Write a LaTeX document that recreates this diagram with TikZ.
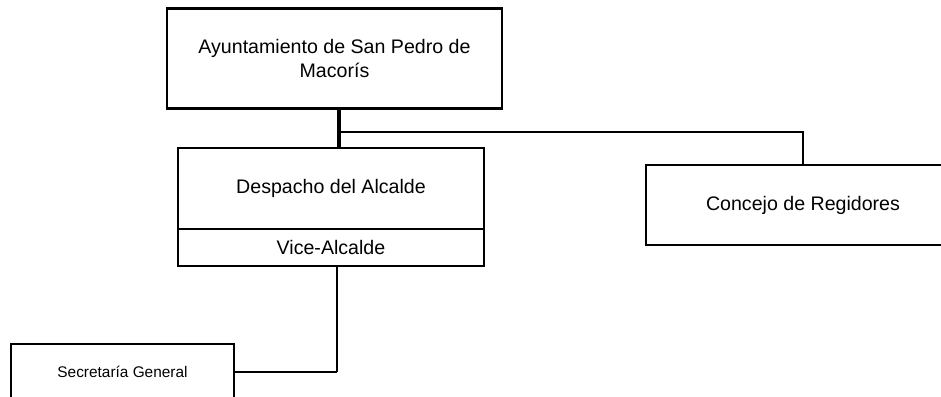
\documentclass[tikz,border=0pt]{standalone}
\usepackage{fontspec}
\setmainfont{Liberation Sans}
\usepackage{tikz}
\usetikzlibrary{positioning, calc}

\begin{document}
\begin{tikzpicture}[x=0.5pt, y=-0.5pt,
		orgbox/.style={draw, line width=1.2pt, fill=white, inner sep=0pt, outer sep=0pt, align=center, font=\fontsize{9.8}{12}\selectfont},
		smallbox/.style={orgbox, font=\fontsize{7.7}{9}\selectfont},
		link/.style={line width=1.1pt}]
	\useasboundingbox (0,0) rectangle (941,396);
	\clip (0,0) rectangle (941,396);
	% boxes
	\node[orgbox, minimum width=167.5pt, minimum height=50pt] (ayunt) at (334.5,58.5)
	{Ayuntamiento de San Pedro de\\Macorís};
	\node[orgbox, minimum width=153pt, minimum height=40.5pt] (despacho) at (331,188.5) {Despacho del Alcalde};
	\node[orgbox, minimum width=153pt, minimum height=18.5pt, below=0pt of despacho] (vice) {Vice-Alcalde};
	\node[orgbox, minimum width=157pt, minimum height=40pt] (concejo) at (803,205) {Concejo de Regidores};
	\node[smallbox, minimum width=111.5pt, minimum height=28pt] (secretaria) at (122.5,372) {Secretaría General};
	% connectors
	\coordinate (junta) at (339,132);
	\coordinate (codo) at ($(secretaria.east -| vice.south)+(3pt,0)$);
	\draw[line width=2pt] (ayunt.south -| junta) -- (despacho.north -| junta);
	\draw[link] (junta) -| (concejo.north);
	\draw[line width=0.7pt] (vice.south -| codo) -- (codo);
	\draw[line width=1pt] (codo) -- (secretaria.east);
\end{tikzpicture}
\end{document}
